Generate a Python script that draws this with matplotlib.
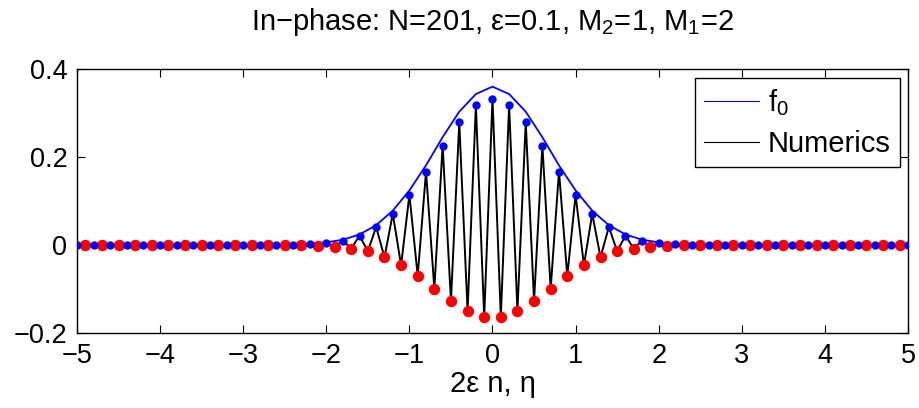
import numpy as np
import matplotlib
matplotlib.use("Agg")
import matplotlib.pyplot as plt

plt.rcParams['font.family'] = ['Liberation Sans', 'DejaVu Sans']
plt.rcParams['mathtext.fontset'] = 'custom'
plt.rcParams['mathtext.rm'] = 'Liberation Sans'
plt.rcParams['mathtext.it'] = 'Liberation Sans'

# Blue (even) sites: x = -5.0 ... 5.0 step 0.2
x_even = np.round(np.arange(-5.0, 5.0001, 0.2), 3)
blue_vals = [0, 0, 0, 0, 0, 0, 0, 0, 0, 0, 0, 0, 0,
             0.001, 0.002, 0.004, 0.010, 0.021, 0.041, 0.071, 0.114,
             0.167, 0.226, 0.279, 0.318, 0.332, 0.318, 0.279, 0.226,
             0.167, 0.114, 0.071, 0.041, 0.021, 0.010, 0.004, 0.002,
             0.001, 0, 0, 0, 0, 0, 0, 0, 0, 0, 0, 0, 0, 0]
# Red (odd) sites: x = -4.9 ... 4.9 step 0.2
x_odd = np.round(np.arange(-4.9, 4.9001, 0.2), 3)
red_vals = [0, 0, 0, 0, 0, 0, 0, 0, 0, 0, 0, 0, 0,
            -0.001, -0.002, -0.004, -0.008, -0.014, -0.028, -0.046, -0.070,
            -0.099, -0.127, -0.150, -0.164, -0.164, -0.150, -0.127, -0.099,
            -0.070, -0.046, -0.028, -0.014, -0.008, -0.004, -0.002, -0.001,
            0, 0, 0, 0, 0, 0, 0, 0, 0, 0, 0, 0, 0]
# Envelope f0 on the even grid
f0_vals = [0, 0, 0, 0, 0, 0, 0, 0, 0, 0, 0, 0, 0.0008,
           0.0015, 0.003, 0.006, 0.012, 0.024, 0.045, 0.078, 0.124,
           0.181, 0.245, 0.303, 0.343, 0.360, 0.343, 0.303, 0.245,
           0.181, 0.124, 0.078, 0.045, 0.024, 0.012, 0.006, 0.003,
           0.0015, 0.0008, 0, 0, 0, 0, 0, 0, 0, 0, 0, 0, 0, 0]

# interleave numerics
x_all = np.concatenate([x_even, x_odd])
y_all = np.concatenate([blue_vals, red_vals])
order = np.argsort(x_all)
x_num = x_all[order]
y_num = y_all[order]

fig = plt.figure(figsize=(9.2, 4.08), dpi=100)
ax = fig.add_axes([77/920, (408-333)/408, (908-77)/920, (333-69)/408])

fs_tick = 19.5
fs = 21
ax.plot(x_even, f0_vals, color='#0000ff', lw=1.3, label='f$_0$', zorder=2)
ax.plot(x_num, y_num, color='black', lw=1.4, label='Numerics', zorder=3)
ax.plot(x_odd, red_vals, 'o', color='#ff0000', ms=8.2, mew=0, zorder=4)
ax.plot(x_even, blue_vals, 'o', color='#0000ff', ms=6.0, mew=0, zorder=5)

ax.set_xlim(-5, 5)
ax.set_ylim(-0.2, 0.4)
ax.set_xticks(np.arange(-5, 6, 1))
ax.set_yticks([-0.2, 0, 0.2, 0.4])
ax.set_xticklabels(['\u22125', '\u22124', '\u22123', '\u22122', '\u22121', '0', '1', '2', '3', '4', '5'])
ax.set_yticklabels(['\u22120.2', '0', '0.2', '0.4'])
ax.tick_params(direction='in', top=True, right=True, length=6, width=0.8,
               labelsize=fs_tick, pad=7)
for s in ax.spines.values():
    s.set_linewidth(1.0)

ax.set_xlabel('2\u03b5 n, \u03b7', fontsize=fs, labelpad=1)
ax.set_title('In\u2212phase: N=201, \u03b5=0.1, M$_2$=1, M$_1$=2', fontsize=fs, pad=28)

leg = ax.legend(loc='upper right', bbox_to_anchor=(0.99, 0.966), fontsize=fs,
                frameon=True, fancybox=False, edgecolor='black', framealpha=1,
                handlelength=1.9, borderpad=0.3, labelspacing=0.42, handletextpad=0.3,
                borderaxespad=0)
leg.get_frame().set_linewidth(1.0)
for h in leg.get_lines():
    h.set_linewidth(0.8)

fig.savefig('out.png', dpi=100)
